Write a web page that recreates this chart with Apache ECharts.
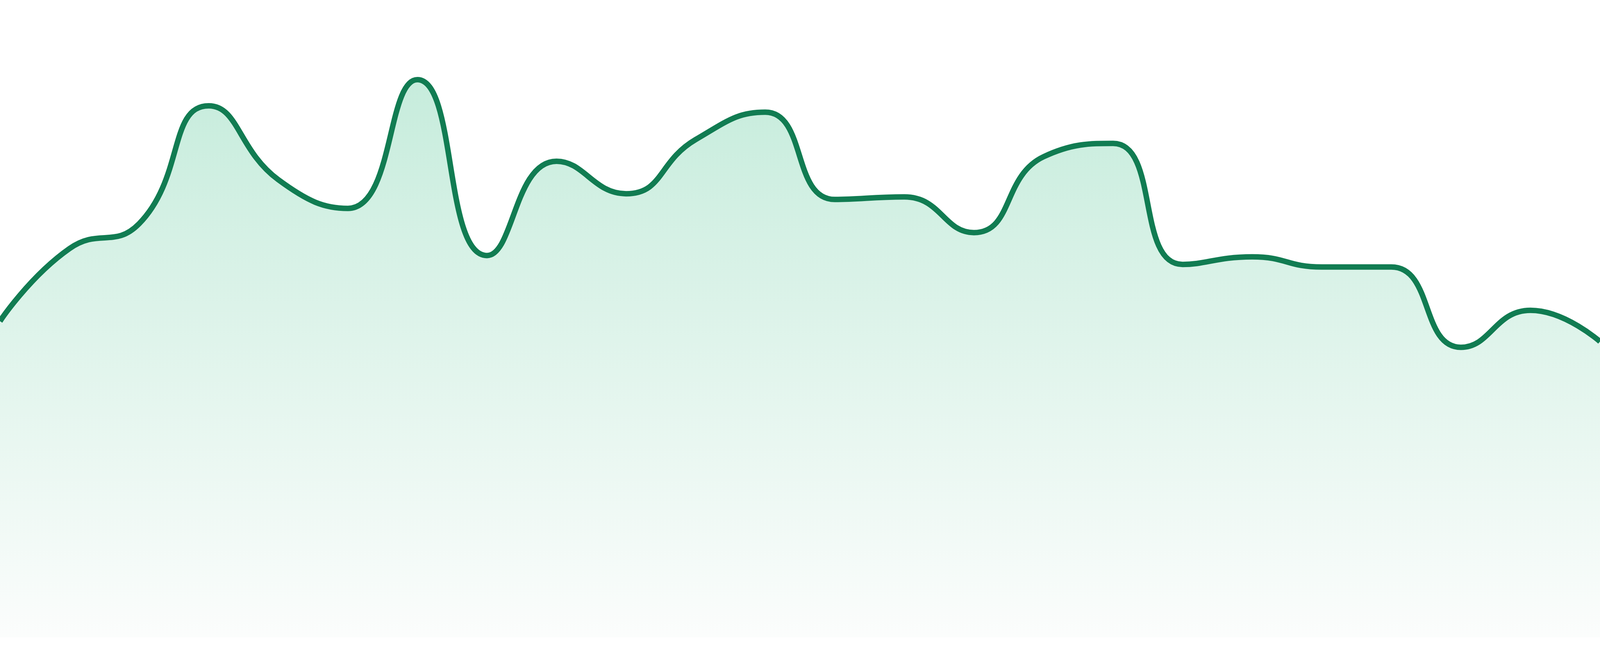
<!DOCTYPE html>
<html>
<head>
<meta charset="utf-8">
<script src="https://cdn.jsdelivr.net/npm/echarts@6/dist/echarts.min.js"></script>
<style>
  html, body { margin: 0; padding: 0; background: #ffffff; overflow: hidden; }
  #chart { width: 100vw; height: 100vh; }
</style>
</head>
<body>
<div id="chart"></div>
<script>
var categories = ['1','2','3','4','5','6','7','8','9','10','11','12','13','14','15','16','17','18','19','20','21','22','23','24'];
var values = [49.6, 61.0, 64.9, 83.4, 71.8, 67.3, 87.5, 59.9, 74.7, 69.6, 78.1, 82.4,
              68.7, 69.1, 63.5, 75.4, 77.5, 58.5, 59.7, 58.1, 58.1, 45.5, 51.3, 46.4];

var el = document.getElementById('chart');
var chart = echarts.init(el);
var ky = el.clientHeight / 1680;
chart.setOption({
  animation: false,
  backgroundColor: '#ffffff',
  grid: { left: 0, right: 0, top: 0, bottom: 48 * ky },
  xAxis: { type: 'category', data: categories, boundaryGap: false, show: false },
  yAxis: { type: 'value', min: 0, max: 100, show: false },
  series: [{
    type: 'line',
    data: values,
    smooth: true,
    symbol: 'none',
    lineStyle: { color: '#117c52', width: 14 * ky },
    areaStyle: {
      color: new echarts.graphic.LinearGradient(0, 0, 0, 1, [
        { offset: 0, color: '#aee4cd' },
        { offset: 1, color: '#fafcfb' }
      ])
    }
  }]
});
</script>
</body>
</html>
